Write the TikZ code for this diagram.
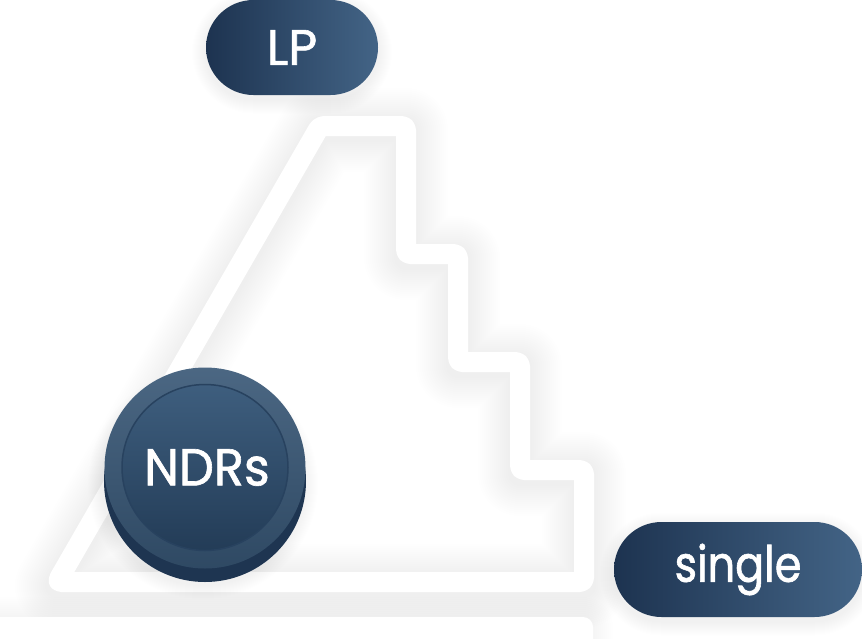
\documentclass[tikz,border=0pt]{standalone}
\usepackage{fontspec}
\setmainfont{Poppins}[FakeBold=1.2]
\newfontfamily\narrowfont{Poppins}[FakeBold=1.2, FakeStretch=0.86]
\newfontfamily\coinfont{Poppins}[FakeBold=1.2, FakeStretch=0.95]
\usetikzlibrary{shapes.misc, positioning}

\definecolor{navydark}{HTML}{1D3350}
\definecolor{navylight}{HTML}{436486}
\definecolor{coinrim}{HTML}{375675}
\definecolor{coinbase}{HTML}{1E3551}
\definecolor{facetop}{HTML}{3E5E7E}
\definecolor{facebot}{HTML}{233C57}

\begin{document}
\begin{tikzpicture}[x=1pt,y=-1pt,
  pill/.style={rounded rectangle, minimum height=95pt, inner sep=0pt,
    left color=navydark, right color=navylight, text=white,
    font=\fontsize{50}{50}\selectfont},
  glow/.style={fill=black, opacity=0.005, inner sep=0pt},
  coin/.style={circle, inner sep=0pt},
  stairline/.style={white, line width=20pt, rounded corners=4pt, line join=round}]
  \useasboundingbox (0,0) rectangle (862,638);
  \fill[white] (0,0) rectangle (862,638);

  % staircase outline
  \coordinate (s1) at (57,582);
  \coordinate (s2) at (320,126);
  \coordinate (s3) at (406,126);
  \coordinate (s4) at (406,254);
  \coordinate (s5) at (458,254);
  \coordinate (s6) at (458,362);
  \coordinate (s7) at (520,362);
  \coordinate (s8) at (520,470);
  \coordinate (s9) at (584,470);
  \coordinate (s10) at (584,582);
  \begin{scope}[transform canvas={yshift=-4pt}]
    \foreach \w in {24,28,...,84}
      \draw[black, opacity=0.0035, line width=\w pt, line join=round]
        (s1) -- (s2) -- (s3) -- (s4) -- (s5) -- (s6) -- (s7) -- (s8) -- (s9) -- (s10) -- cycle;
  \end{scope}
  \draw[stairline] (s1) -- (s2) -- (s3) -- (s4) -- (s5) -- (s6) -- (s7) -- (s8) -- (s9) -- (s10) -- cycle;

  % floor bar
  \foreach \w in {4,8,...,40}
    \draw[black, opacity=0.0035, line width=\w pt, rounded corners=10pt] (-20,617) rectangle (593,660);
  \fill[white, rounded corners=10pt] (-20,617) rectangle (593,660);

  % soft shadows under the pills and the coin
  \foreach \g in {2,4,...,28} {
    \node[glow, rounded rectangle, minimum width=172pt+\g pt, minimum height=95pt+\g pt] (lpglow\g) at (292,52) {};
    \node[glow, rounded rectangle, minimum width=248pt+\g pt, minimum height=95pt+\g pt] (singleglow\g) at (738,574) {};
    \node[glow, circle, minimum size=202pt+\g pt] (coinglow\g) at (203,484) {};
  }

  % labels
  \node[pill, minimum width=172pt] (lp) at (292,47.5) {LP};
  \node[pill, minimum width=248pt, font=\narrowfont\fontsize{50}{50}\selectfont] (single) at (738,569.5) {single};

  % coin
  \node[coin, fill=coinbase, minimum size=202pt] (coinbase) at (205,481) {};
  \node[coin, top color=coinrim!90!white, bottom color=coinrim!85!black, minimum size=201pt] (coinrim) at (205,468) {};
  \node[coin, top color=facetop, bottom color=facebot, minimum size=166pt,
    draw=coinbase!60!coinrim, line width=1.5pt] (coinface) at (205,467.5) {};
  \node[text=white, font=\coinfont\fontsize{52}{52}\selectfont] (ndrs) at ([xshift=2pt]coinface.center) {NDRs};
\end{tikzpicture}
\end{document}
